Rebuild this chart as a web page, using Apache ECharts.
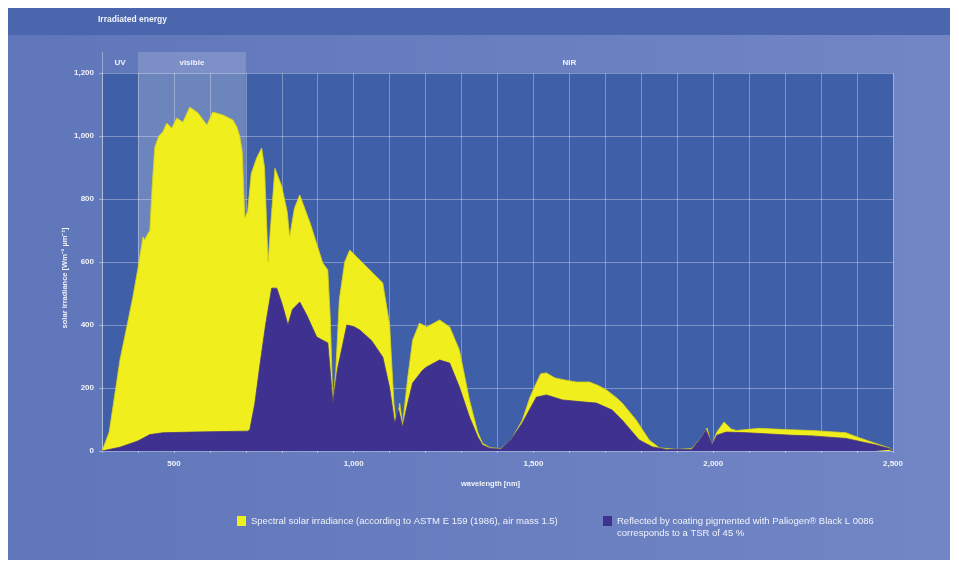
<!DOCTYPE html>
<html><head><meta charset="utf-8">
<script src="https://cdn.jsdelivr.net/npm/echarts@6/dist/echarts.min.js"></script>
<style>html,body{margin:0;padding:0;background:#fff}#c{width:959px;height:566px}</style>
</head><body><div id="c"></div>
<script>
// Spectral solar irradiance (yellow)
const solarNm = [300,320,350,370,386,400,410,414,419,425,433,440,447,458,469,480,494,508,525,544,567,592,608,636,664,675,683,690,697,705,715,730,744,752,758,762,768,781,800,815,822,835,850,880,914,928,935,942,950,960,975,989,1040,1081,1100,1112,1119,1128,1136,1150,1164,1183,1203,1239,1267,1294,1322,1345,1358,1380,1410,1440,1469,1490,1508,1520,1536,1560,1590,1619,1656,1680,1703,1730,1747,1786,1822,1850,1900,1940,1965,1983,1990,1997,2010,2030,2050,2064,2128,2200,2275,2369,2406,2450,2489,2500];
const solarVal = [0,60,290,400,490,580,650,680,670,685,700,850,965,1000,1013,1041,1025,1057,1044,1092,1073,1035,1076,1067,1051,1029,1000,950,740,760,880,930,962,900,720,600,700,898,840,760,680,770,813,720,597,575,420,152,250,480,600,638,580,533,400,150,76,152,83,230,352,406,394,416,394,321,162,60,25,10,8,40,98,170,216,245,248,232,225,219,219,208,194,170,152,98,35,10,5,8,40,73,40,20,60,92,70,65,72,68,65,58,42,25,10,5];
// Reflected by coating (dark)
const reflNm = [300,350,400,433,470,550,650,705,711,725,740,755,772,786,800,810,817,830,850,870,897,928,935,942,955,981,1000,1017,1050,1081,1100,1114,1125,1136,1150,1164,1192,1203,1239,1267,1294,1322,1345,1358,1380,1410,1440,1469,1508,1536,1581,1636,1675,1719,1747,1794,1831,1870,1940,1965,1980,1997,2010,2036,2092,2219,2275,2369,2450,2500];
const reflVal = [0,12,32,52,58,60,62,63,67,150,279,400,517,517,470,430,400,450,473,430,362,343,250,152,260,400,395,384,350,298,200,89,130,76,150,216,257,267,289,279,203,108,45,19,8,6,40,89,171,178,162,156,152,130,98,35,13,5,5,40,67,20,50,60,58,50,48,40,20,5];
// Spectral bands
const bandNames = ['UV','visible','NIR'];
const bandEdges = [300,400,700,2500];
const seriesNames = ['Spectral solar irradiance (according to ASTM E 159 (1986), air mass 1.5)',
  'Reflected by coating pigmented with Paliogen® Black L 0086'];
const legendSecondLine = 'corresponds to a TSR of 45 %';

const zip = (a,b) => a.map((v,i)=>[v,b[i]]);
const fmt = v => v.toLocaleString('en-US');
const YEL = '#f1ee1e', DARK = '#3f318f';
const FONT = 'Liberation Sans, Arial, sans-serif';
const TXT = '#f0f2fa';

const chart = echarts.init(document.getElementById('c'), null, {renderer:'canvas'});
const bandAreas = bandNames.map((n,i)=>[
  {xAxis: bandEdges[i], name: n, itemStyle:{color: n==='visible' ? 'rgba(255,255,255,0.17)' : 'rgba(0,0,0,0)'}},
  {xAxis: bandEdges[i+1]}
]);
chart.setOption({
  backgroundColor: '#ffffff',
  animation: false,
  textStyle: {fontFamily: FONT},
  title: {text: 'Irradiated energy', left: 98, top: 15, padding: 0,
    textStyle: {color:TXT, fontSize: 8.5, fontWeight:'bold', fontFamily: FONT}},
  graphic: [
    {type:'rect', z:-100, shape:{x:8,y:8,width:942,height:552},
      style:{fill:{type:'linear',x:0,y:0,x2:1,y2:0,colorStops:[{offset:0,color:'#5f76ba'},{offset:1,color:'#7286c5'}]}}},
    {type:'rect', z:-99, shape:{x:8,y:8,width:942,height:27}, style:{fill:'#4a66ad'}},
    {type:'text', z:10, style:{text: legendSecondLine, x:617, y:533, fill:TXT,
      font:'9.5px ' + FONT, textVerticalAlign:'middle'}}
  ],
  grid: [
    {left:102, right:66, top:73, bottom:115, show:true, backgroundColor:'#3f60a9', borderWidth:0},
    {left:102, right:66, top:52, height:21, show:false}
  ],
  xAxis: [
    {type:'value', gridIndex:0, min:300, max:2500, interval:100,
      name:'wavelength [nm]', nameLocation:'middle', nameGap:29, nameMoveOverlap:false,
      nameTextStyle:{color:TXT, fontSize:7.5, fontWeight:'bold', padding:[0,14,0,0]},
      axisLine:{show:false},
      axisTick:{show:true, length:2, lineStyle:{color:'rgba(255,255,255,0.45)'}},
      axisLabel:{color:TXT, fontSize:8, fontWeight:'bold', margin:9,
        formatter: v => (v % 500 === 0 && v > 300) ? fmt(v) : ''},
      splitLine:{show:true, lineStyle:{color:'rgba(255,255,255,0.32)', width:1}}},
    {type:'value', gridIndex:1, min:300, max:2500, show:false}
  ],
  yAxis: [
    {type:'value', gridIndex:0, min:0, max:1200, interval:200,
      name:'solar irradiance [Wm⁻² µm⁻¹]', nameLocation:'middle', nameGap:33, nameMoveOverlap:false,
      nameTextStyle:{color:TXT, fontSize:7.5, fontWeight:'bold', padding:[0,32,0,0]},
      axisLine:{show:true, lineStyle:{color:'rgba(255,255,255,0.4)'}},
      axisTick:{show:true, length:3, lineStyle:{color:'rgba(255,255,255,0.4)'}},
      axisLabel:{color:TXT, fontSize:8, fontWeight:'bold', margin:8, formatter: fmt},
      splitLine:{show:true, lineStyle:{color:'rgba(255,255,255,0.32)', width:1}}},
    {type:'value', gridIndex:1, min:0, max:1, show:true,
      axisLine:{show:true, lineStyle:{color:'rgba(255,255,255,0.35)'}},
      axisTick:{show:false}, axisLabel:{show:false}, splitLine:{show:false}}
  ],
  legend: [
    {left:237, top:516, padding:0, itemWidth:9, itemHeight:10, icon:'rect', itemGap:0,
      data:[seriesNames[0]], selectedMode:false,
      textStyle:{color:TXT, fontSize:9.5, fontFamily: FONT}},
    {left:603, top:516, padding:0, itemWidth:9, itemHeight:10, icon:'rect', itemGap:0,
      data:[seriesNames[1]], selectedMode:false,
      textStyle:{color:TXT, fontSize:9.5, fontFamily: FONT}}
  ],
  series: [
    {type:'line', xAxisIndex:0, yAxisIndex:0, z:1, silent:true, data:[[300,0]], symbol:'none',
      lineStyle:{opacity:0},
      markArea:{silent:true, itemStyle:{color:'rgba(255,255,255,0.24)'},
        data:[[{xAxis:bandEdges[1]},{xAxis:bandEdges[2]}]]}},
    {type:'line', xAxisIndex:1, yAxisIndex:1, silent:true, data:[[300,0]], symbol:'none',
      lineStyle:{opacity:0},
      markArea:{silent:true,
        label:{show:true, position:'inside', color:TXT, fontSize:8, fontWeight:'bold'},
        data: bandAreas}},
    {name:seriesNames[0], type:'line', xAxisIndex:0, yAxisIndex:0, z:3, data:zip(solarNm, solarVal),
      symbol:'none', smooth:false, itemStyle:{color:YEL},
      lineStyle:{color:'#d8d31a', width:0.8}, areaStyle:{color:YEL, opacity:1}},
    {name:seriesNames[1], type:'line', xAxisIndex:0, yAxisIndex:0, z:4, data:zip(reflNm, reflVal),
      symbol:'none', smooth:false, itemStyle:{color:DARK},
      lineStyle:{color:'#4a3a80', width:0.8}, areaStyle:{color:DARK, opacity:1}}
  ]
});
</script></body></html>
